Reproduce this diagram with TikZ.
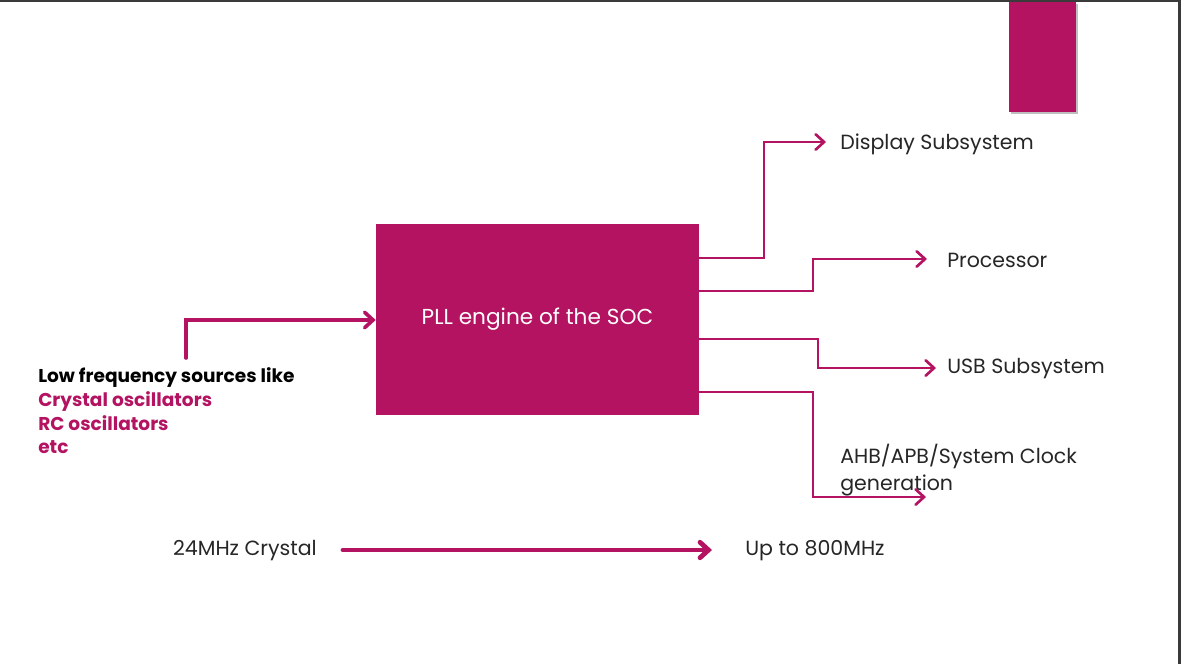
\documentclass[tikz,border=0pt]{standalone}
\usepackage{fontspec}
\setmainfont{Poppins}
\usepackage{xcolor}
\usetikzlibrary{positioning}
\usetikzlibrary{arrows.meta}
\definecolor{soc}{HTML}{B31361}
\definecolor{frame}{HTML}{3A3A3A}
\tikzset{>={Straight Barb[length=6pt,width=11pt,line cap=round]}}
\tikzstyle{line} = [draw=soc, line width=1.9pt, ->, line join=miter]
\tikzstyle{label} = [anchor=west, inner sep=0pt, font=\fontsize{14.6}{18}\selectfont, text=black!85]

\begin{document}
\begin{tikzpicture}[x=0.025cm, y=-0.025cm,
      block/.style={draw=none, fill=soc, text=white, minimum width=323*0.025cm,
      minimum height=191*0.025cm, inner sep=0pt, font=\fontsize{15.4}{18}\selectfont}]
    \useasboundingbox (0,0) rectangle (1181,664);
    %% frame and accent
    \fill [white] (0,0) rectangle (1181,664);
    \fill [frame] (0,0) rectangle (1181,2);
    \fill [frame] (1178,0) rectangle (1181,664);
    \fill [black!25] (1011,4) rectangle (1078,114);
    \fill [soc] (1009,2) rectangle (1076,112);
    %% PLL
    \node [block] at (537.5,319.5) (PLL) {PLL engine of the SOC};
    %% Sources
    \node [anchor=west, inner sep=0pt, align=left, font=\fontsize{13.2}{16.8}\selectfont\bfseries] at (38,411) (Src)
      {Low frequency sources like\\
       \textcolor{soc}{Crystal oscillators}\\
       \textcolor{soc}{RC oscillators}\\
       \textcolor{soc}{etc}};
    \coordinate (SrcUp) at (186,358);
    %% Outputs
    \node [label, inner xsep=14*0.025cm] at (826,144) (Disp) {Display Subsystem};
    \node [label, inner xsep=20*0.025cm] at (927,260) (Proc) {Processor};
    \node [label, inner xsep=11*0.025cm] at (936,369) (USB) {USB Subsystem};
    \node [label, align=left, font=\fontsize{14.6}{19}\selectfont] at (840,470) (AHB) {AHB/APB/System Clock\\generation};
    \coordinate (AHBend) at (926,497);
    %% Crystal
    \node [label, anchor=east, inner xsep=26*0.025cm] at (343,551) (Xtal) {24MHz Crystal};
    \node [label, inner xsep=33*0.025cm] at (712,551) (Out) {Up to 800MHz};
    %%
    %% Input
    \path [line, line width=2.6pt, line cap=round] (SrcUp) |- (PLL.west |- 0,320);
    %% Branches
    \path [line] (PLL.east |- 0,258) -- (764,258) |- (Disp.west |- 0,142);
    \path [line] (PLL.east |- 0,291) -- (813,291) |- (Proc.west |- 0,259);
    \path [line] (PLL.east |- 0,339) -- (818,339) |- (USB.west |- 0,368);
    \path [line] (PLL.east |- 0,392) -- (813,392) |- (AHBend);
    %% Frequency
    \path [line, line width=3.4pt, line cap=round] (Xtal.east |- 0,550) -- (Out.west |- 0,550);
\end{tikzpicture}
\end{document}
